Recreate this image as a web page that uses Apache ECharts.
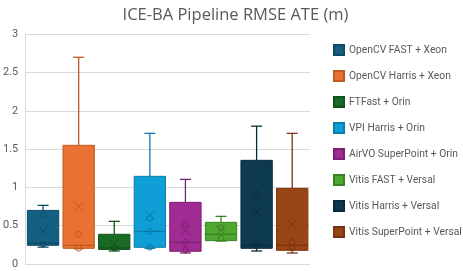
<!DOCTYPE html>
<html>
<head>
<meta charset="utf-8">
<script src="https://cdn.jsdelivr.net/npm/echarts@6/dist/echarts.min.js"></script>
<style>html,body{margin:0;padding:0;background:#fff}#c{width:463px;height:271px}</style>
</head>
<body>
<div id="c"></div>
<script>
const names = ["OpenCV FAST + Xeon", "OpenCV Harris + Xeon", "FTFast + Orin", "VPI Harris + Orin", "AirVO SuperPoint + Orin", "Vitis FAST + Versal", "Vitis Harris + Versal", "Vitis SuperPoint + Versal"];
const mins    = [0.22, 0.20, 0.17, 0.205, 0.144, 0.30, 0.17, 0.144];
const q1s     = [0.244, 0.205, 0.19, 0.218, 0.166, 0.305, 0.205, 0.179];
const medians = [0.27, 0.244, 0.21, 0.427, 0.283, 0.388, 0.244, 0.244];
const q3s     = [0.70, 1.55, 0.388, 1.145, 0.805, 0.544, 1.354, 0.988];
const maxs    = [0.766, 2.70, 0.557, 1.706, 1.105, 0.622, 1.80, 1.706];
const means   = [0.43, 0.753, 0.265, 0.636, 0.44, 0.44, 0.675, 0.52];
const innerPoints = [[0.635, 0.26], [0.388, 0.205], [0.21], [0.596, 0.427, 0.218], [0.518, 0.283, 0.18], [0.474, 0.335], [0.923, 0.244], [0.283, 0.213]];
const yTicks = [0, 0.5, 1, 1.5, 2, 2.5, 3];

const fills   = ['#156082', '#E97132', '#196B24', '#0F9ED5', '#A02B93', '#4EA72E', '#0E3A50', '#994415'];
const borders = ['#0F4A66', '#C05A22', '#12521B', '#0B7CA8', '#7D1F72', '#3B8322', '#082A3A', '#7A330E'];

function renderItem(params, api) {
  const si = params.seriesIndex;
  const i = api.value(0);
  const cx = api.coord([i, 0])[0];
  const band = api.size([1, 0])[0];
  const bw = band * 0.88;
  const capW = 11;
  const y = v => api.coord([i, v])[1];
  const yMin = y(api.value(1)), yQ1 = y(api.value(2)), yMed = y(api.value(3)), yQ3 = y(api.value(4)), yMax = y(api.value(5)), yMean = y(api.value(6));
  const bc = borders[si];
  const ls = {stroke: bc, lineWidth: 1.3, fill: null};
  const children = [
    {type: 'line', shape: {x1: cx, y1: yQ3, x2: cx, y2: yMax}, style: ls},
    {type: 'line', shape: {x1: cx - capW / 2, y1: yMax, x2: cx + capW / 2, y2: yMax}, style: ls},
    {type: 'line', shape: {x1: cx, y1: yQ1, x2: cx, y2: yMin}, style: ls},
    {type: 'line', shape: {x1: cx - capW / 2, y1: yMin, x2: cx + capW / 2, y2: yMin}, style: ls},
    {type: 'rect', shape: {x: cx - bw / 2, y: yQ3, width: bw, height: yQ1 - yQ3}, style: {fill: fills[si], stroke: bc, lineWidth: 1}},
    {type: 'line', shape: {x1: cx - bw / 2, y1: yMed, x2: cx + bw / 2, y2: yMed}, style: ls},
    {type: 'line', shape: {x1: cx - 4.5, y1: yMean - 4.5, x2: cx + 4.5, y2: yMean + 4.5}, style: {stroke: bc, lineWidth: 1}},
    {type: 'line', shape: {x1: cx - 4.5, y1: yMean + 4.5, x2: cx + 4.5, y2: yMean - 4.5}, style: {stroke: bc, lineWidth: 1}}
  ];
  innerPoints[si].forEach(p => {
    children.push({type: 'circle', shape: {cx: cx, cy: y(p), r: 2.8}, style: {fill: null, stroke: bc, lineWidth: 1}});
  });
  return {type: 'group', children: children};
}

const series = names.map((n, i) => ({
  name: n,
  type: 'custom',
  renderItem: renderItem,
  itemStyle: {color: fills[i], borderColor: borders[i], borderWidth: 1},
  encode: {x: 0, y: [1, 2, 3, 4, 5, 6]},
  data: [[i, mins[i], q1s[i], medians[i], q3s[i], maxs[i], means[i]]]
}));

const chart = echarts.init(document.getElementById('c'), null, {renderer: 'canvas'});
chart.setOption({
  animation: false,
  title: {
    text: 'ICE-BA Pipeline RMSE ATE (m)',
    left: 230.5, textAlign: 'center', top: 2,
    textStyle: {fontFamily: 'Open Sans', fontSize: 16.5, fontWeight: 'normal', color: '#595959'}
  },
  legend: {
    orient: 'vertical', left: 328, top: 39,
    itemWidth: 10, itemHeight: 10, itemGap: 14,
    icon: 'rect',
    textStyle: {fontFamily: 'Roboto', fontSize: 10.3, color: '#595959'},
    data: names
  },
  grid: {left: 24, right: 153, top: 34.3, bottom: 7},
  xAxis: {
    type: 'category', data: names,
    axisLine: {show: false}, axisTick: {show: false}, axisLabel: {show: false}, splitLine: {show: false}
  },
  yAxis: {
    type: 'value', min: yTicks[0], max: yTicks[yTicks.length - 1], interval: 0.5,
    axisLine: {show: true, lineStyle: {color: '#d9d9d9'}},
    axisTick: {show: false},
    axisLabel: {fontFamily: 'Roboto', fontSize: 11, color: '#595959', margin: 7},
    splitLine: {lineStyle: {color: '#d9d9d9'}}
  },
  series: series
});
</script>
</body>
</html>
